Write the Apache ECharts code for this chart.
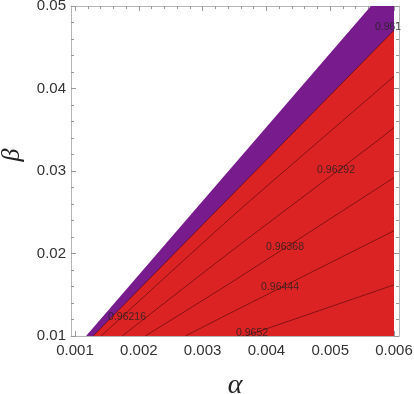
<!DOCTYPE html>
<html>
<head>
    <meta charset="UTF-8">
    <title>alpha beta contour</title>
</head>
<style>
    body{margin:0;background:#fff;}
    #chart{width:414px;height:394px;}
</style>
<body>
<div id="chart"></div>
<script type="text/javascript" src="https://cdn.jsdelivr.net/npm/echarts@6/dist/echarts.min.js"></script>
<script>
    // tick labels
    var xTicks = [0.001, 0.002, 0.003, 0.004, 0.005, 0.006];
    var yTicks = [0.01, 0.02, 0.03, 0.04, 0.05];

    // outer edge of the allowed region (purple band starts here)
    var edgeAlpha = [0.001173, 0.005638, 0.006];
    var edgeBeta  = [0.01, 0.05, 0.05];

    // contour lines
    var levels = ['0.961', '0.96216', '0.96292', '0.96368', '0.96444', '0.9652'];
    var lineAlpha = [
        [0.001283, 0.006],
        [0.001409, 0.003406, 0.004852, 0.006],
        [0.001739, 0.003437, 0.005764, 0.006],
        [0.0021, 0.003437, 0.006],
        [0.00273, 0.003437, 0.006],
        [0.003673, 0.006]
    ];
    var lineBeta = [
        [0.01, 0.04706],
        [0.01, 0.02409, 0.03381, 0.04147],
        [0.01, 0.02021, 0.03381, 0.03527],
        [0.01, 0.01644, 0.0292],
        [0.01, 0.01279, 0.02276],
        [0.01, 0.0162]
    ];
    // where the contour labels sit
    var labelAlpha = [0.005906, 0.001815, 0.005091, 0.004292, 0.004213, 0.003774];
    var labelBeta  = [0.04742, 0.01231, 0.03005, 0.02081, 0.01595, 0.01036];

    function zip(a, b) {
        var out = [];
        for (var i = 0; i < a.length; i++) out.push([a[i], b[i]]);
        return out;
    }
    // minor ticks between the majors
    var xMinor = [];
    for (var i = 0; i < xTicks.length - 1; i++) {
        for (var k = 1; k < 5; k++) xMinor.push(xTicks[i] + k * (xTicks[i + 1] - xTicks[i]) / 5);
    }

    var frameColor = '#b5b5b5';
    var xMin = 0.000937, xMax = 0.006078;

    function xAxisDef(pos, ticks, len, labels, line) {
        return {
            type: 'value', position: pos, min: xMin, max: xMax,
            splitLine: {show: false},
            axisLine: {show: line, lineStyle: {color: frameColor, width: 1}},
            axisTick: {show: true, inside: true, length: len, customValues: ticks,
                lineStyle: {color: '#999'}},
            axisLabel: labels ? {
                show: true, customValues: ticks, margin: 7,
                color: '#333', fontSize: 15, fontFamily: 'Liberation Sans',
                formatter: function (v) { return v.toFixed(3); }
            } : {show: false},
            name: labels && pos === 'bottom' ? 'α' : '',
            nameLocation: 'middle', nameGap: 36,
            nameTextStyle: {fontSize: 28, fontStyle: 'italic', fontFamily: 'Liberation Serif', color: '#222'}
        };
    }
    function yAxisDef(pos, labels) {
        return {
            type: 'value', position: pos, min: 0.01, max: 0.05, interval: 0.01,
            splitLine: {show: false},
            axisLine: {show: true, lineStyle: {color: frameColor, width: 1}},
            axisTick: {show: true, inside: true, length: 5, lineStyle: {color: '#999'}},
            minorTick: {show: true, splitNumber: 5, length: 3, lineStyle: {color: '#999'}},
            axisLabel: labels ? {
                show: true, margin: 5, color: '#333', fontSize: 15, fontFamily: 'Liberation Sans',
                formatter: function (v) { return v.toFixed(2); }
            } : {show: false},
            name: labels ? 'β' : '',
            nameLocation: 'middle', nameGap: 46,
            nameTextStyle: {fontSize: 26, fontStyle: 'italic', fontFamily: 'Liberation Serif', color: '#222',
                padding: [0, 0, 0, 32]}
        };
    }

    var series = [];
    series.push({
        type: 'line', data: zip(edgeAlpha, edgeBeta), symbol: 'none', silent: true,
        lineStyle: {width: 0}, areaStyle: {color: '#781b8c', opacity: 1, origin: 'start'}, z: 1
    });
    series.push({
        type: 'line', data: zip(lineAlpha[0], lineBeta[0]), symbol: 'none', silent: true,
        lineStyle: {width: 0}, areaStyle: {color: '#dc2324', opacity: 1, origin: 'start'}, z: 2
    });
    for (var j = 0; j < levels.length; j++) {
        series.push({
            type: 'line', data: zip(lineAlpha[j], lineBeta[j]), symbol: 'none', silent: true,
            smooth: 0.3,
            lineStyle: {color: 'rgba(60,0,0,0.75)', width: 0.7}, z: 3
        });
    }
    var labelPts = [];
    for (var j = 0; j < levels.length; j++) labelPts.push({value: [labelAlpha[j], labelBeta[j]], name: levels[j]});
    series.push({
        type: 'scatter', data: labelPts, symbolSize: 0, silent: true, z: 5,
        label: {show: true, position: 'inside', formatter: '{b}', color: '#222',
            fontSize: 10.5, fontFamily: 'Liberation Sans'}
    });

    var chart = echarts.init(document.getElementById('chart'));
    chart.setOption({
        animation: false,
        grid: {left: 71, right: 15, top: 6, bottom: 58, outerBoundsMode: 'none', containLabel: false},
        xAxis: [
            xAxisDef('bottom', xTicks, 5, true, true),
            xAxisDef('bottom', xMinor, 3, false, false),
            xAxisDef('top', xTicks, 5, false, true),
            xAxisDef('top', xMinor, 3, false, false)
        ],
        yAxis: [yAxisDef('left', true), yAxisDef('right', false)],
        series: series
    });
</script>
</body>
</html>
